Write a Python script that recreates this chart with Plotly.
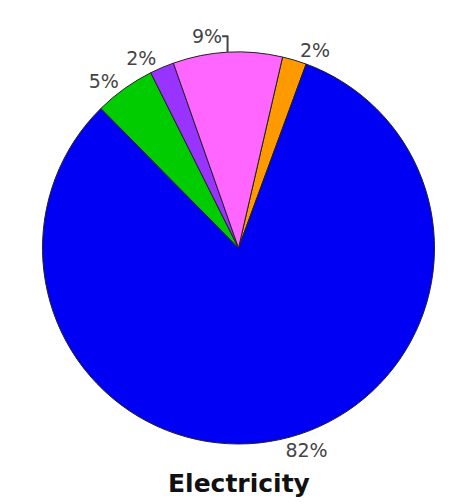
import plotly.graph_objects as go

labels = ["Orange", "Blue", "Green", "Purple", "Pink"]
values = [2, 82, 5, 2, 9]
colors = ["#FF9900", "#0000F5", "#00CC00", "#9933FF", "#FF66FF"]
title_text = "Electricity"

fig = go.Figure(go.Pie(
    labels=labels,
    values=values,
    sort=False,
    direction="clockwise",
    rotation=13,
    marker=dict(colors=colors, line=dict(color="#222222", width=1)),
    texttemplate="%{percent:.0%}",
    textposition="outside",
    textfont=dict(family="DejaVu Sans", size=19, color="#444444"),
    showlegend=False,
    hoverinfo="label+percent",
))

fig.update_layout(
    width=462, height=504,
    margin=dict(l=32, r=5, t=52, b=60),
    paper_bgcolor="white",
    plot_bgcolor="white",
    annotations=[dict(
        text="<b>" + title_text + "</b>",
        x=0.5, y=0, xref="paper", yref="paper",
        xanchor="center", yanchor="bottom",
        showarrow=False,
        font=dict(family="DejaVu Sans", size=25, color="#111111"),
        yshift=-56,
    )],
)

fig.write_html("out.html")
